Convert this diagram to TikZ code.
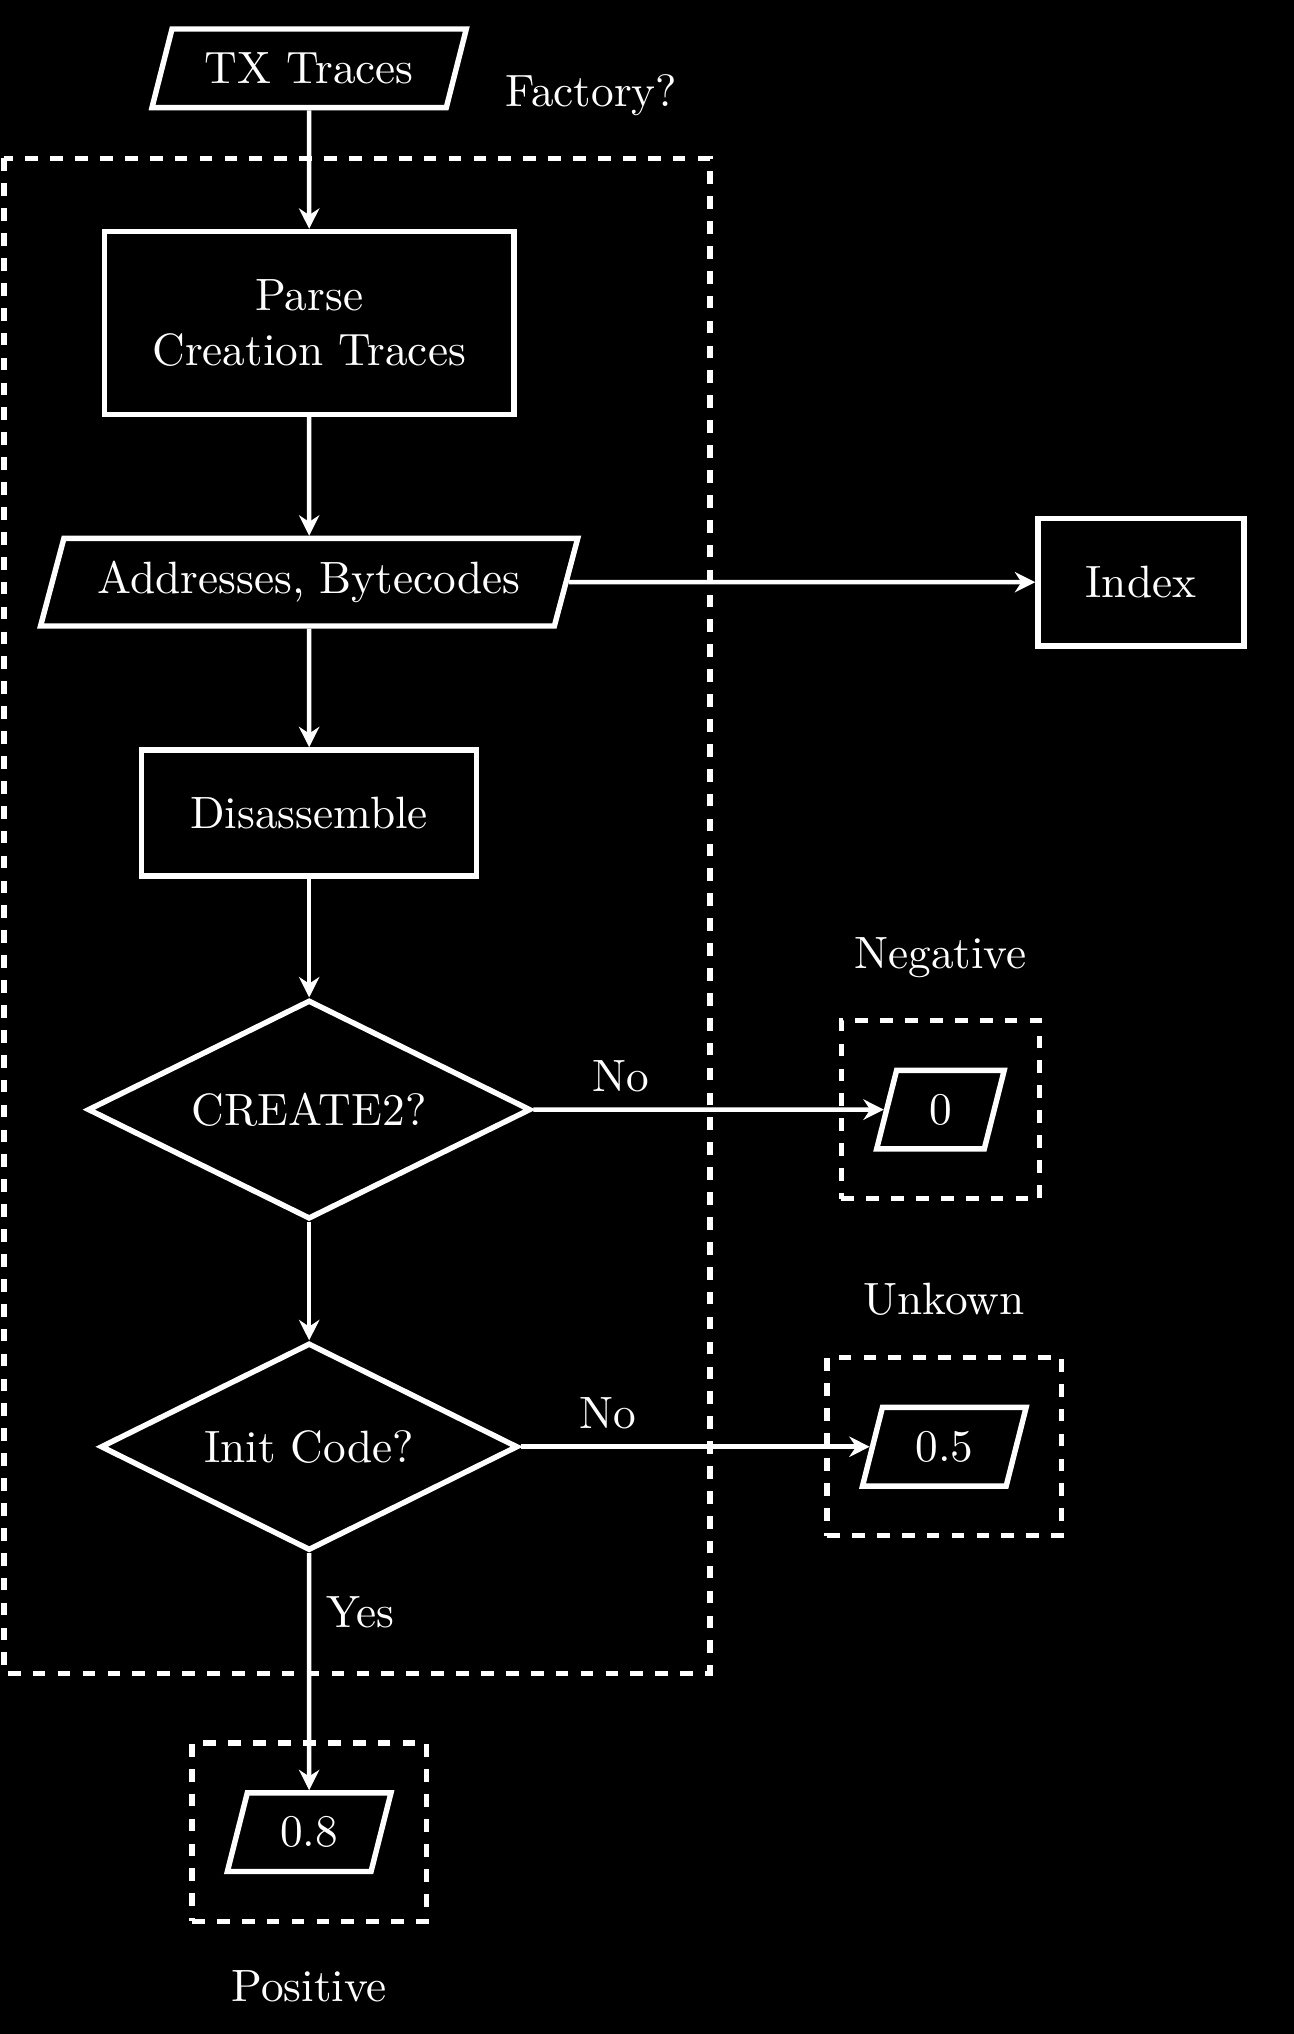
\documentclass[tikz,border=0pt]{standalone}
\usetikzlibrary{
  positioning,
  fit,
  shapes.geometric,
  arrows.meta
}

\begin{document}
\begin{tikzpicture}[
  color=white,
  line width=1.2pt,
  node distance=.92cm,
  process/.style={
     rectangle,
     draw,
     align=center
  },
  data/.style={
     trapezium,
     trapezium left angle=72,
     trapezium right angle=108,
     trapezium stretches body,
     draw,
     minimum height=.61cm
  },
  decision/.style={
     diamond,
     shape aspect=2,
     inner sep=1pt,
     draw
  },
  group/.style={
     draw,
     dash pattern=on 2.8pt off 2.7pt,
     inner xsep=.33cm,
     inner ysep=.365cm
  },
  flow/.style={-{Stealth[length=4.5pt,width=4.5pt]},line width=1pt}
]
   % black page
   \useasboundingbox (0,0) rectangle (10.04,-15.79);
   \fill[black] (-.2,.2) rectangle (10.3,-16);

   % The main column
   \node[data,minimum width=2.44cm] (traces) at (2.40,-.53) {TX Traces};
   \node[process,below=of traces,minimum width=3.18cm,minimum height=1.42cm] (parse) {Parse\\Creation Traces};
   \node[data,below=of parse,minimum width=4.17cm,minimum height=.68cm] (addr) {Addresses, Bytecodes};
   \node[process,below=of addr,minimum width=2.60cm,minimum height=.98cm] (disasm) {Disassemble};
   \node[decision,below=of disasm,minimum width=3.44cm,minimum height=1.70cm] (create) {CREATE2?};
   \node[decision,below=of create,minimum width=3.24cm,minimum height=1.61cm] (init) {Init Code?};
   \node[data,below=1.84cm of init,minimum width=1.27cm] (pos) {0.8};

   % The nodes to the right
   \node[process,right=3.62cm of addr,minimum width=1.60cm,minimum height=.99cm] (index) {Index};
   \node[data,right=2.72cm of create,minimum width=.99cm] (neg) {0};
   \node[data,right=2.71cm of init,minimum width=1.27cm] (unk) {0.5};

   % The dashed groups and their labels
   \draw[group] (.03,-1.23) rectangle (5.51,-12.99);
   \node[right=.22cm of traces,yshift=-.21cm] (factory) {Factory?};
   \node[group,fit=(neg)] (negbox) {};
   \node[group,fit=(unk)] (unkbox) {};
   \node[group,fit=(pos)] (posbox) {};
   \node[above=.17cm of negbox] (neglabel) {Negative};
   \node[above=.17cm of unkbox] (unklabel) {Unkown};
   \node[below=.22cm of posbox] (poslabel) {Positive};

   % The connecting arrows
   \draw[flow] (traces) -- (parse);
   \draw[flow] (parse) -- (addr);
   \draw[flow] (addr) -- (disasm);
   \draw[flow] (addr) -- (index);
   \draw[flow] (disasm) -- (create);
   \draw[flow] (create) -- (init);
   \draw[flow] (create) -- node[pos=.25,above] (no1) {No} (neg);
   \draw[flow] (init) -- node[pos=.25,above] (no2) {No} (unk);
   \draw[flow] (init) -- node[pos=.25,right] (yes) {Yes} (pos);
\end{tikzpicture}
\end{document}
